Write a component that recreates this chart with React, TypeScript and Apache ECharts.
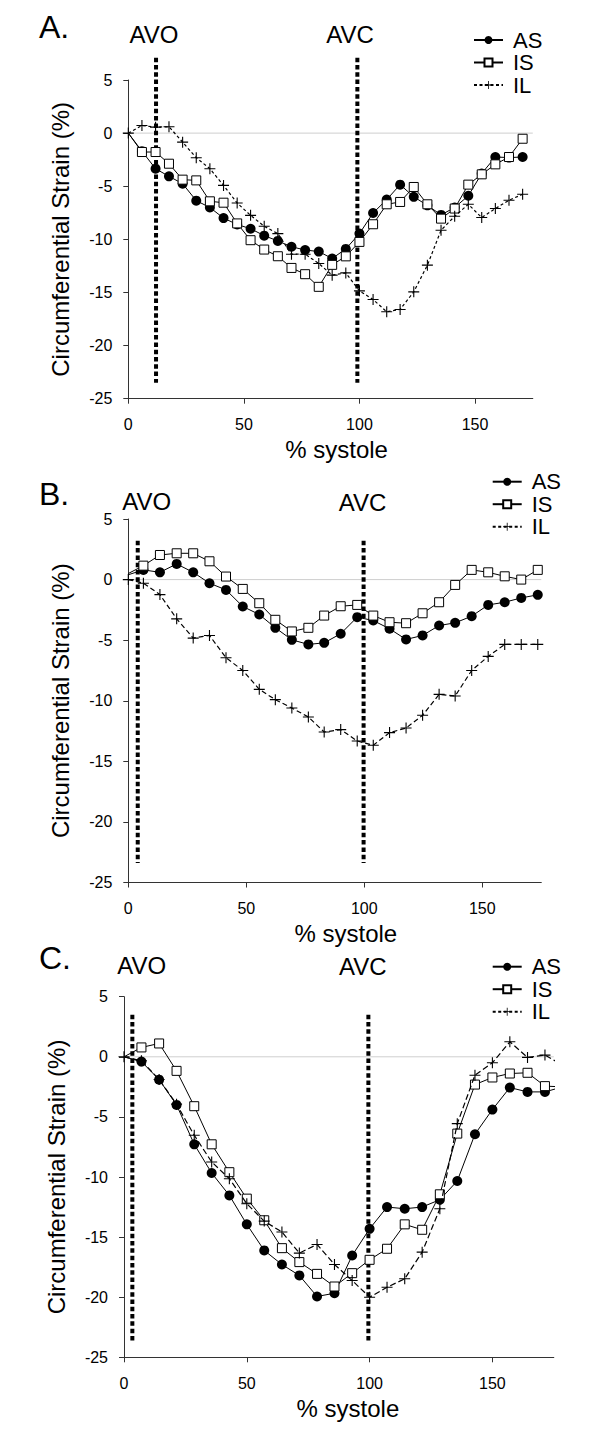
import { useEffect, useRef } from 'react';
import * as echarts from 'echarts';

// ---------- data ----------
const xA = [0, 5.9, 11.8, 17.6, 23.5, 29.4, 35.3, 41.2, 47.1, 52.9, 58.8, 64.7, 70.6, 76.5, 82.4, 88.2, 94.1, 100, 105.9, 111.8, 117.6, 123.5, 129.4, 135.3, 141.2, 147.1, 152.9, 158.8, 164.7, 170.6];
const asA = [0, -1.7, -3.35, -4.07, -4.76, -6.36, -7.0, -8.0, -8.6, -9.0, -9.65, -10.15, -10.7, -11.0, -11.15, -11.8, -10.9, -9.46, -7.52, -6.26, -4.85, -6.0, -6.8, -7.7, -7.0, -5.9, -3.8, -2.25, -2.3, -2.25];
const isA = [0, -1.78, -1.78, -2.88, -4.38, -4.45, -6.42, -6.55, -8.5, -10.08, -10.96, -11.59, -12.69, -13.28, -14.47, -12.4, -11.6, -10.24, -8.58, -6.7, -6.48, -5.07, -6.7, -8.05, -7.1, -4.85, -3.88, -2.94, -2.25, -0.53];
const ilA = [0, 0.72, 0.56, 0.6, -0.85, -2.32, -3.35, -4.92, -6.58, -7.74, -8.77, -9.46, -11.4, -11.4, -12.27, -13.37, -13.16, -14.85, -15.66, -16.82, -16.6, -14.94, -12.43, -9.14, -7.83, -6.7, -7.95, -7.1, -6.32, -5.76];

const xB = [0, 6.4, 13.4, 20.5, 27.5, 34.4, 41.4, 48.5, 55.5, 62.3, 69.3, 76.3, 83.0, 90.0, 97.0, 103.8, 110.7, 117.7, 124.7, 131.7, 138.5, 145.5, 152.5, 159.5, 166.5, 173.5];
const asB = [0.4, 0.8, 0.6, 1.29, 0.6, -0.3, -0.85, -2.22, -2.88, -3.98, -4.97, -5.35, -5.22, -4.47, -3.1, -3.38, -4.06, -4.94, -4.61, -3.79, -3.57, -3.02, -2.09, -1.87, -1.51, -1.26];
const isB = [0.5, 1.15, 2.03, 2.17, 2.17, 1.51, 0.25, -0.77, -1.95, -3.32, -4.28, -3.98, -2.97, -2.2, -2.09, -2.97, -3.52, -3.6, -2.78, -1.87, -0.44, 0.8, 0.6, 0.27, 0.0, 0.8];
const ilB = [0, -0.3, -1.24, -3.24, -4.83, -4.61, -6.45, -7.5, -9.06, -9.91, -10.6, -11.34, -12.58, -12.38, -13.32, -13.67, -12.63, -12.25, -11.2, -9.47, -9.61, -7.5, -6.34, -5.35, -5.35, -5.35];

const xC = [0, 7.1, 14.3, 21.4, 28.6, 35.7, 42.9, 50, 57.1, 64.3, 71.4, 78.6, 85.7, 92.9, 100, 107.1, 114.3, 121.4, 128.6, 135.7, 142.9, 150, 157.1, 164.3, 171.4, 178.6];
const asC = [0, -0.4, -1.9, -4.0, -7.28, -9.67, -11.53, -13.94, -16.11, -17.28, -18.19, -19.94, -19.67, -16.53, -14.31, -12.5, -12.64, -12.5, -11.89, -10.33, -6.44, -4.39, -2.56, -2.92, -2.92, -2.5];
const isC = [0, 0.78, 1.11, -1.17, -4.11, -7.28, -9.6, -11.8, -13.6, -15.92, -17.08, -18.06, -19.11, -18.0, -16.89, -15.97, -13.94, -14.39, -11.44, -6.39, -2.31, -1.72, -1.39, -1.33, -2.44, -2.5];
const ilC = [0, -0.33, -1.89, -3.94, -6.53, -8.75, -10.14, -12.22, -13.67, -14.58, -16.33, -15.61, -17.28, -18.61, -20.0, -19.17, -18.47, -16.25, -12.64, -5.56, -1.53, -0.5, 1.25, -0.05, 0.14, -0.69];

// valve events: x position (% systole), top and bottom of the dotted marker (strain %)
const valveXA = [12, 99.1];
const valveYA = [7.1, -23.5];
const valveXB = [4, 99.7];
const valveYB = [3.2, -23.4];
const valveXC = [3.4, 99.5];
const valveYC = [3.5, -23.7];

const valveNames = ['AVO', 'AVC'];
const seriesNames = ['AS', 'IS', 'IL'];
const panelLabels = ['A.', 'B.', 'C.'];
const xTicks = [0, 50, 100, 150];
const xRange = [0, 175];
const yRange = [-25, 5];
const yStep = 5;

// ---------- layout ----------
const FONT = 'Liberation Sans, Arial, sans-serif';
const panels = [
  {
    x: xA, as: asA, is: isA, il: ilA, vx: valveXA, vy: valveYA,
    grid: { left: 128.3, top: 80, width: 404.5, height: 318.7 },
    label: { x: 39, y: 26.5 }, valveLabel: [{ x: 154, y: 34 }, { x: 350, y: 34 }],
    legend: { left: 473, top: 29 }, ilDash: [3, 2.5], hideLast: false, xNamePad: 12,
  },
  {
    x: xB, as: asB, is: isB, il: ilB, vx: valveXB, vy: valveYB,
    grid: { left: 128.3, top: 519, width: 413, height: 363.5 },
    label: { x: 39, y: 494 }, valveLabel: [{ x: 146.7, y: 501 }, { x: 362.5, y: 502 }],
    legend: { left: 491.7, top: 470.7 }, ilDash: [5, 3], hideLast: false, xNamePad: 22,
  },
  {
    x: xC, as: asC, is: isC, il: ilC, vx: valveXC, vy: valveYC,
    grid: { left: 124, top: 996.7, width: 429.8, height: 360.6 },
    label: { x: 39, y: 958 }, valveLabel: [{ x: 141.7, y: 965 }, { x: 362.7, y: 966 }],
    legend: { left: 491.7, top: 955.7 }, ilDash: [6, 3], hideLast: true, xNamePad: 18,
  },
];

const CROSS = 'path://M4.5,0H5.5V4.5H10V5.5H5.5V10H4.5V5.5H0V4.5H4.5Z';

function buildOption() {
  const grids: any[] = [];
  const xAxes: any[] = [];
  const yAxes: any[] = [];
  const series: any[] = [];
  const legends: any[] = [];
  const graphics: any[] = [];

  panels.forEach((p, k) => {
    grids.push({ ...p.grid, containLabel: false });
    xAxes.push({
      type: 'value', gridIndex: k, min: xRange[0], max: xRange[1],
      axisLine: { show: true, onZero: false, lineStyle: { color: '#333', width: 1 } },
      axisTick: { show: true, length: 5, customValues: xTicks, lineStyle: { color: '#333' } },
      axisLabel: { customValues: xTicks, fontSize: 16, color: '#000', fontFamily: FONT, margin: 18 },
      splitLine: { show: false },
      name: '% systole', nameLocation: 'middle', nameGap: 39,
      nameTextStyle: { fontSize: 24, color: '#000', fontFamily: FONT, padding: [0, 0, 0, p.xNamePad] },
    });
    yAxes.push({
      type: 'value', gridIndex: k, min: yRange[0], max: yRange[1], interval: yStep,
      axisLine: { show: true, onZero: false, lineStyle: { color: '#333', width: 1 } },
      axisTick: { show: true, length: 5, lineStyle: { color: '#333' } },
      axisLabel: { fontSize: 16, color: '#000', fontFamily: FONT, margin: 16 },
      splitLine: { show: false },
      name: 'Circumferential Strain (%)', nameLocation: 'middle', nameRotate: 90, nameGap: 56,
      nameTextStyle: { fontSize: 24, color: '#000', fontFamily: FONT },
    });

    // zero reference line
    series.push({
      name: 'zero' + k, type: 'line', xAxisIndex: k, yAxisIndex: k, silent: true,
      data: [[xRange[0], 0], [xRange[1], 0]], symbol: 'none',
      lineStyle: { color: '#cfcfcf', width: 1 }, z: 1,
    });
    // valve markers
    p.vx.forEach((vx, j) => {
      series.push({
        name: valveNames[j] + k, type: 'line', xAxisIndex: k, yAxisIndex: k, silent: true, clip: false,
        data: [[vx, p.vy[0]], [vx, p.vy[1]]], symbol: 'none',
        lineStyle: { color: '#000', width: 4, type: [4.5, 2.8], cap: 'butt' }, z: 2,
      });
    });

    const mk = (ys: number[], hideFirst: boolean) => ys.map((y, i) => {
      const hide = (hideFirst && i === 0) || (p.hideLast && i === ys.length - 1);
      return hide ? { value: [p.x[i], y], symbol: 'none' } : { value: [p.x[i], y] };
    });

    series.push({
      name: seriesNames[0], type: 'line', xAxisIndex: k, yAxisIndex: k, clip: false,
      data: mk(p.as, true), symbol: 'circle', symbolSize: 10,
      itemStyle: { color: '#000' }, lineStyle: { color: '#000', width: 1 }, z: 5,
    });
    series.push({
      name: seriesNames[1], type: 'line', xAxisIndex: k, yAxisIndex: k, clip: false,
      data: mk(p.is, true), symbol: 'rect', symbolSize: 9,
      itemStyle: { color: '#fff', borderColor: '#000', borderWidth: 1 },
      lineStyle: { color: '#000', width: 1 }, z: 6,
    });
    series.push({
      name: seriesNames[2], type: 'line', xAxisIndex: k, yAxisIndex: k, clip: false,
      data: mk(p.il, false), symbol: CROSS, symbolSize: 11,
      itemStyle: { color: '#000' }, lineStyle: { color: '#000', width: 1.2, type: p.ilDash }, z: 7,
    });

    legends.push({
      data: seriesNames, orient: 'vertical', left: p.legend.left, top: p.legend.top,
      itemWidth: 29, itemHeight: 10, itemGap: 0.5, padding: 0, selectedMode: false,
      textStyle: { fontSize: 22, lineHeight: 22, color: '#000', fontFamily: FONT, padding: [0, 0, 0, 5] },
    });

    graphics.push({
      type: 'text', x: p.label.x, y: p.label.y,
      style: { text: panelLabels[k], fontSize: 32, fontFamily: FONT, fill: '#000', align: 'left', verticalAlign: 'middle' },
    });
    p.valveLabel.forEach((vl, j) => {
      graphics.push({
        type: 'text', x: vl.x, y: vl.y,
        style: { text: valveNames[j], fontSize: 24, fontFamily: FONT, fill: '#000', align: 'center', verticalAlign: 'middle' },
      });
    });
  });

  return {
    animation: false,
    backgroundColor: '#fff',
    textStyle: { fontFamily: FONT },
    grid: grids,
    xAxis: xAxes,
    yAxis: yAxes,
    legend: legends,
    series,
    graphic: graphics,
  };
}

export default function App() {
  const ref = useRef<HTMLDivElement>(null);
  useEffect(() => {
    if (!ref.current) return;
    const chart = echarts.init(ref.current, undefined, { renderer: 'svg' });
    chart.setOption(buildOption() as any);
    return () => chart.dispose();
  }, []);
  return (
    <div
      ref={ref}
      style={{ position: 'absolute', left: 0, top: 0, width: 600, height: 1441, background: '#fff' }}
    />
  );
}
